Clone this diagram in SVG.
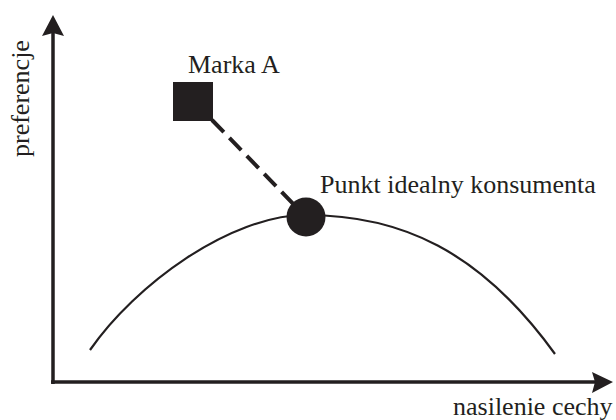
<svg xmlns="http://www.w3.org/2000/svg" width="616" height="420" viewBox="0 0 616 420">
<style>
.lbl{font-family:"Liberation Serif","Times New Roman",serif;font-size:26px;fill:#231f20}
.ax{stroke:#231f20;stroke-width:3.5;fill:none}
.ah{fill:#231f20}
.curve{stroke:#231f20;stroke-width:2.2;fill:none}
.dash{stroke:#231f20;stroke-width:4;stroke-dasharray:17 8;fill:none}
</style>
<rect width="616" height="420" fill="#ffffff"/>
<g id="axes">
<line class="ax" x1="53" y1="384" x2="53" y2="30"/>
<path class="ah" d="M53,15 L64,36 L53,33 L42,36 Z"/>
<line class="ax" x1="51" y1="382" x2="598" y2="382"/>
<path class="ah" d="M613,382 L592,372 L595,382 L592,393 Z"/>
<text class="lbl" x="453" y="415">nasilenie cechy</text>
<text class="lbl" transform="translate(29,157) rotate(-90)">preferencje</text>
</g>
<g id="connectors">
<line class="dash" x1="212" y1="120" x2="306" y2="217"/>
<path id="preference-curve" class="curve" d="M90,350 C135,285 230,215 306,215 C400,215 480,250 555,354"/>
</g>
<g id="marka-a">
<rect x="173" y="82" width="40" height="39" fill="#231f20"/>
<text class="lbl" x="188" y="73">Marka A</text>
</g>
<g id="punkt-idealny">
<circle cx="306" cy="217" r="19.5" fill="#231f20"/>
<text class="lbl" x="320" y="193">Punkt idealny konsumenta</text>
</g>
</svg>
